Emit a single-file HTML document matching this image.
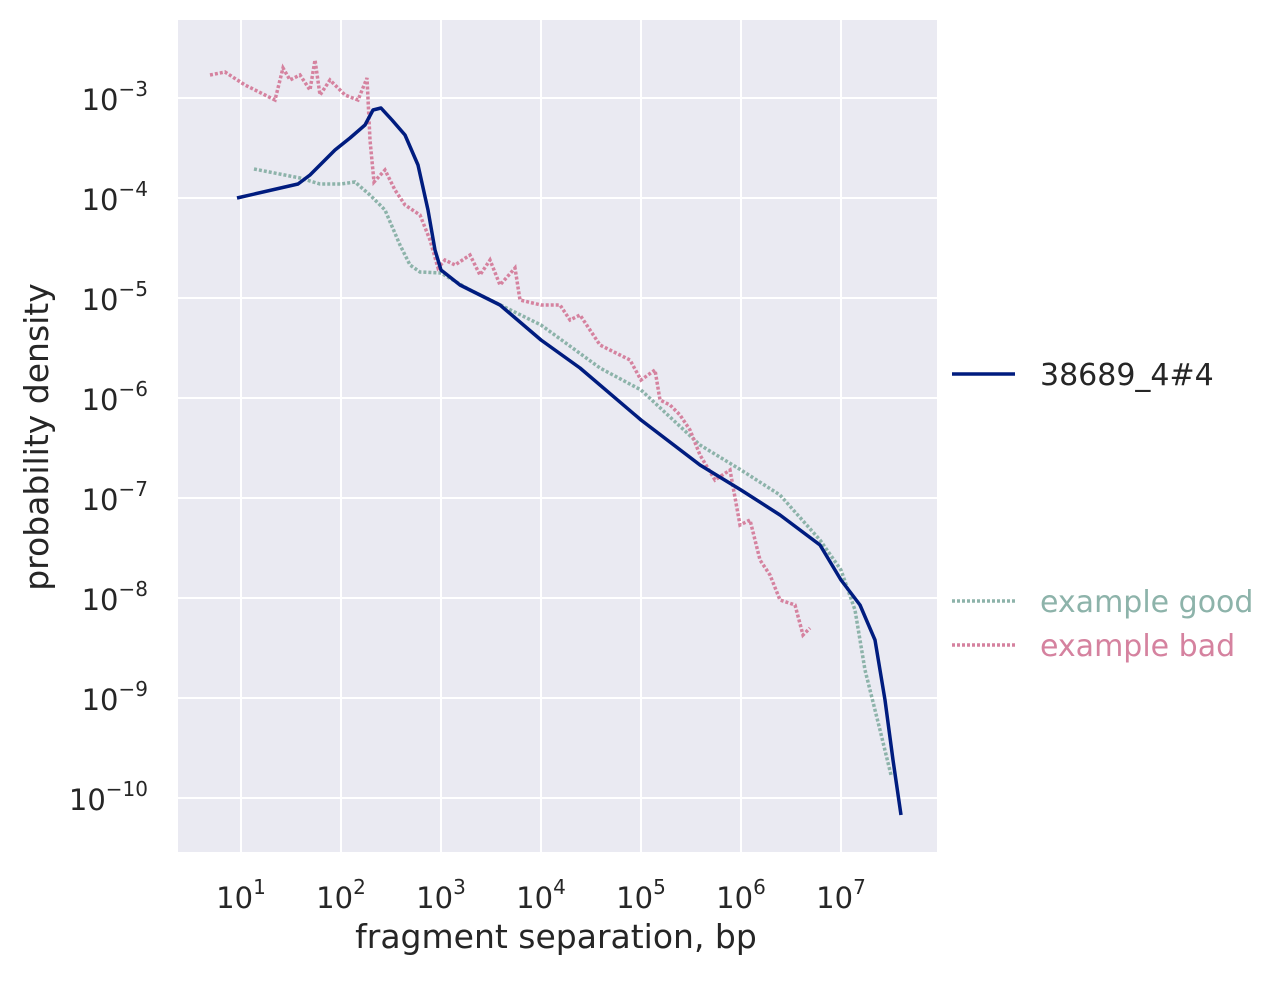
<!DOCTYPE html>
<html><head><meta charset="utf-8"><style>
body{margin:0;background:#fff;width:1283px;height:976px;overflow:hidden}
text{font-family:"DejaVu Sans","Liberation Sans",sans-serif;fill:#262626}
</style></head><body>
<svg width="1283" height="976" xmlns="http://www.w3.org/2000/svg">
<rect x="178" y="20" width="759" height="832" fill="#eaeaf2"/>
<g stroke="#fff" stroke-width="2">
<line x1="241" y1="20" x2="241" y2="852"/><line x1="341" y1="20" x2="341" y2="852"/><line x1="441" y1="20" x2="441" y2="852"/><line x1="541" y1="20" x2="541" y2="852"/><line x1="641" y1="20" x2="641" y2="852"/><line x1="741" y1="20" x2="741" y2="852"/><line x1="841" y1="20" x2="841" y2="852"/>
<line x1="178" y1="98" x2="937" y2="98"/><line x1="178" y1="198" x2="937" y2="198"/><line x1="178" y1="298" x2="937" y2="298"/><line x1="178" y1="398" x2="937" y2="398"/><line x1="178" y1="498" x2="937" y2="498"/><line x1="178" y1="598" x2="937" y2="598"/><line x1="178" y1="698" x2="937" y2="698"/><line x1="178" y1="798" x2="937" y2="798"/>
</g>
<g font-size="29" text-anchor="end">
<text x="148" y="110">10<tspan dy="-14" font-size="20">−3</tspan></text>
<text x="148" y="210">10<tspan dy="-14" font-size="20">−4</tspan></text>
<text x="148" y="310">10<tspan dy="-14" font-size="20">−5</tspan></text>
<text x="148" y="410">10<tspan dy="-14" font-size="20">−6</tspan></text>
<text x="148" y="510">10<tspan dy="-14" font-size="20">−7</tspan></text>
<text x="148" y="610">10<tspan dy="-14" font-size="20">−8</tspan></text>
<text x="148" y="710">10<tspan dy="-14" font-size="20">−9</tspan></text>
<text x="148" y="810">10<tspan dy="-14" font-size="20">−10</tspan></text>
</g>
<g font-size="29" text-anchor="middle">
<text x="241" y="908">10<tspan dy="-14" font-size="20">1</tspan></text>
<text x="341" y="908">10<tspan dy="-14" font-size="20">2</tspan></text>
<text x="441" y="908">10<tspan dy="-14" font-size="20">3</tspan></text>
<text x="541" y="908">10<tspan dy="-14" font-size="20">4</tspan></text>
<text x="641" y="908">10<tspan dy="-14" font-size="20">5</tspan></text>
<text x="741" y="908">10<tspan dy="-14" font-size="20">6</tspan></text>
<text x="841" y="908">10<tspan dy="-14" font-size="20">7</tspan></text>
</g>
<text x="556" y="948" font-size="33" text-anchor="middle">fragment separation, bp</text>
<text transform="translate(48,437) rotate(-90)" font-size="33" text-anchor="middle">probability density</text>
<polyline fill="none" stroke="#8db3aa" stroke-width="3.5" stroke-dasharray="3,2" points="254,169 300,178 320,184 341,184 355,182 370,195 385,210 400,245 410,265 420,272 441,273 470,290 541,325 600,368 641,390 700,445 741,470 780,495 820,540 841,570 855,610 865,670 880,730 891,775"/>
<polyline fill="none" stroke="#d5829f" stroke-width="3.5" stroke-dasharray="3,2" points="210,75 225,72 245,85 265,95 275,100 283,68 290,80 300,75 310,90 315,60 320,95 330,80 345,95 358,100 367,78 370,140 374,182 385,170 395,190 405,205 420,215 430,240 438,268 445,260 455,265 470,255 480,275 490,260 500,285 515,268 520,300 541,305 560,305 570,320 580,315 590,330 600,345 610,350 620,355 630,360 641,380 655,370 660,400 670,405 680,415 690,430 700,455 715,480 730,470 740,525 750,520 760,560 770,575 780,600 795,605 803,635 810,628"/>
<polyline fill="none" stroke="#001c7f" stroke-width="3.5" stroke-linejoin="round" points="237,198 298,184 310,175 320,165 335,150 350,138 365,125 373,110 381,108 392,120 405,135 418,165 428,210 435,250 441,270 460,285 500,305 541,340 580,368 641,420 700,465 741,490 780,515 820,545 841,580 860,605 875,640 885,700 893,760 901,815"/>
<line x1="952" y1="374" x2="1015" y2="374" stroke="#001c7f" stroke-width="3.5"/>
<text x="1040" y="385" font-size="30">38689_4#4</text>
<line x1="952" y1="601" x2="1015" y2="601" stroke="#8db3aa" stroke-width="3.5" stroke-dasharray="3,2"/>
<text x="1040" y="612" font-size="30" style="fill:#8db3aa">example good</text>
<line x1="952" y1="645" x2="1015" y2="645" stroke="#d5829f" stroke-width="3.5" stroke-dasharray="3,2"/>
<text x="1040" y="656" font-size="30" style="fill:#d5829f">example bad</text>
</svg>
</body></html>
